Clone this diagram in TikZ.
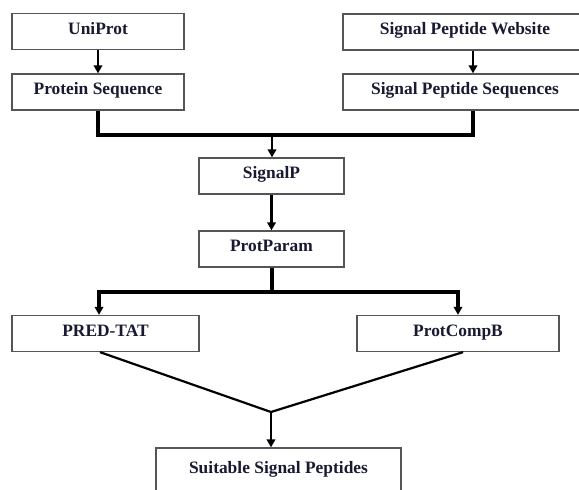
\documentclass[tikz,border=0pt]{standalone}
\usepackage{fontspec}
\setmainfont{Liberation Serif}
\usetikzlibrary{arrows.meta,calc}
\definecolor{boxline}{RGB}{85,85,85}
\definecolor{txt}{RGB}{25,25,50}
\begin{document}
\begin{tikzpicture}[x=1pt,y=-1pt,
  box/.style={draw=boxline, line width=1.3pt, fill=white,
    font=\fontsize{17.4}{20}\selectfont\bfseries, text=txt,
    text height=11.5pt, text depth=6pt, inner sep=0pt, minimum height=36pt},
  conn/.style={line width=3.2pt, draw=black},
  arr/.style={line width=2.7pt, draw=black, -{Triangle[width=8.5pt,length=8pt]}},
  arrthick/.style={arr, line width=3.2pt},
  diag/.style={line width=2.2pt, draw=black}]
\path[use as bounding box] (0,0) rectangle (579,490);
\clip (0,0) rectangle (579,490);
% boxes
\node[box, minimum width=172pt] (uni)  at (98,31.5) {UniProt};
\node[box, minimum width=172pt] (pseq) at (98,92) {Protein Sequence};
\node[box, minimum width=244pt] (web)  at (465,32) {Signal Peptide Website};
\node[box, minimum width=244pt] (sps)  at (465,92) {Signal Peptide Sequences};
\node[box, minimum width=145pt] (sigp) at (271.5,176) {SignalP};
\node[box, minimum width=145pt] (pp)   at (271.5,249) {ProtParam};
\node[box, minimum width=187pt] (pred) at (105.5,333.5) {PRED-TAT};
\node[box, minimum width=202pt] (pcb)  at (458,333.5) {ProtCompB};
\node[box, minimum width=245pt, minimum height=52pt, text depth=13pt] (suit) at (278.5,474) {Suitable Signal Peptides};
% helper coordinates
\coordinate (xl) at (99,0);
\coordinate (xr) at (473,0);
\coordinate (xd1) at (100,0);
\coordinate (xd2) at (463,0);
\coordinate (ja) at (272,135);
\coordinate (jb) at (272,292);
\coordinate (jc) at (271,412);
% connectors
\draw[arr] (uni) -- (pseq);
\draw[arr] (web.south -| xr) -- (sps.north -| xr);
\draw[conn] (pseq.south) |- (ja) -| (sps.south -| xr);
\draw[arr] (ja) -- (sigp.north -| ja);
\draw[arr] (sigp) -- (pp);
\draw[conn] (pp.south -| jb) -- (jb);
\draw[arrthick] (jb) -| (pred.north -| xl);
\draw[arrthick] (jb) -| (pcb.north);
\draw[diag] (pred.south -| xd1) -- (jc) -- (pcb.south -| xd2);
\draw[arr] (jc) -- (suit.north -| jc);
\end{tikzpicture}
\end{document}
